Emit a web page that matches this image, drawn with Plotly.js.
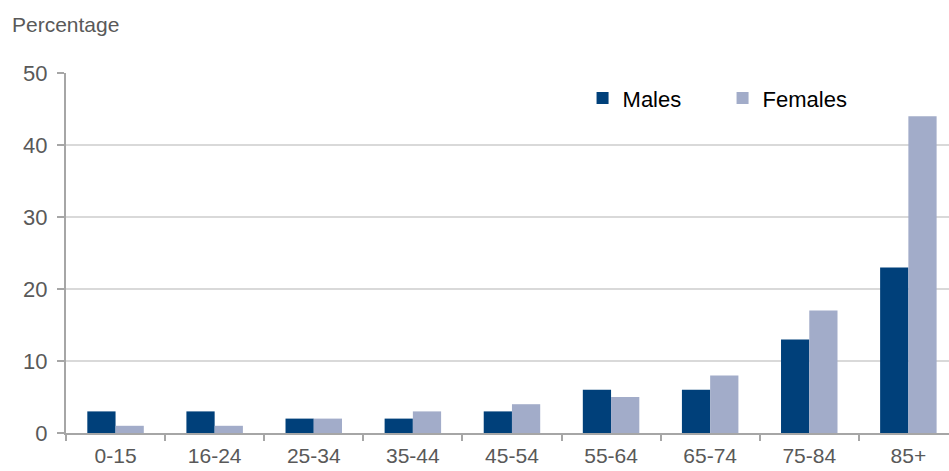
<!DOCTYPE html>
<html>
<head>
<meta charset="utf-8">
<script src="https://cdn.plot.ly/plotly-3.0.1.min.js"></script>
<style>html,body{margin:0;padding:0;background:#fff;}#chart{width:949px;height:471px;}</style>
</head>
<body>
<div id="chart"></div>
<script>
const categories = ["0-15","16-24","25-34","35-44","45-54","55-64","65-74","75-84","85+"];
const males = [3, 3, 2, 2, 3, 6, 6, 13, 23];
const females = [1, 1, 2, 3, 4, 5, 8, 17, 44];
const yTicks = [0, 10, 20, 30, 40, 50];

const font = "Liberation Sans, Arial, sans-serif";
const data = [
  {type: "bar", name: "Males", x: categories, y: males, marker: {color: "#00407a"}},
  {type: "bar", name: "Females", x: categories, y: females, marker: {color: "#a2acc9"}}
];
const layout = {
  width: 949, height: 471,
  margin: {l: 66, r: 0, t: 73, b: 38},
  paper_bgcolor: "#fff", plot_bgcolor: "#fff",
  barmode: "group", bargap: 0.43, bargroupgap: 0,
  font: {family: font, color: "#595959", size: 22},
  showlegend: true,
  legend: {orientation: "h", x: 0.585, xanchor: "left", y: 0.93, yanchor: "middle",
           font: {family: font, size: 22, color: "#000"}, entrywidth: 95, entrywidthmode: "pixels",
           bgcolor: "rgba(0,0,0,0)"},
  xaxis: {type: "category", range: [-0.5, 8.41], showline: true, linecolor: "#a6a6a6", linewidth: 2,
          ticks: "outside", tickson: "boundaries", ticklen: 6, tickcolor: "#a6a6a6", tickwidth: 2,
          showgrid: false, zeroline: false, tickfont: {size: 21, color: "#595959"},
          ticklabelstandoff: 3, automargin: false},
  yaxis: {range: [0, 50], tickvals: yTicks, showline: true, linecolor: "#a6a6a6", linewidth: 2,
          ticks: "outside", ticklen: 7, tickcolor: "#a6a6a6", tickwidth: 2,
          showgrid: true, gridcolor: "#d9d9d9", gridwidth: 2, zeroline: false,
          tickfont: {size: 22, color: "#595959"}, ticklabelstandoff: 5, automargin: false},
  annotations: [{text: "Percentage", xref: "paper", yref: "paper", x: -0.063, y: 1.135,
                 xanchor: "left", yanchor: "middle", showarrow: false,
                 font: {family: font, size: 21, color: "#595959"}}]
};
Plotly.newPlot("chart", data, layout, {staticPlot: true, displayModeBar: false});
</script>
</body>
</html>
